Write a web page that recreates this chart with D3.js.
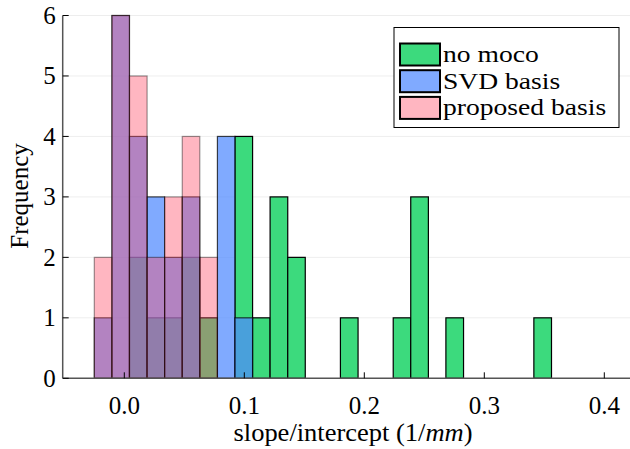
<!DOCTYPE html>
<html>
<head>
<meta charset="utf-8">
<script src="https://cdn.jsdelivr.net/npm/d3@7"></script>
<style>
  html, body { margin: 0; padding: 0; background: #fff; }
  svg { display: block; }
  text { font-family: "Liberation Serif", "Times New Roman", serif; fill: #000; }
</style>
</head>
<body>
<svg id="chart" width="630" height="449"></svg>
<script>
// Shared histogram bin edges (1/mm)
const binEdges = [-0.0250, -0.0103, 0.0043, 0.0190, 0.0336, 0.0483, 0.0629, 0.0776,
  0.0922, 0.1069, 0.1215, 0.1362, 0.1508, 0.1655, 0.1801, 0.1948, 0.2094, 0.2241,
  0.2387, 0.2534, 0.2680, 0.2827, 0.2973, 0.3120, 0.3266, 0.3413, 0.3560];

// Counts per bin for each reconstruction
const noMocoCounts   = [0, 0, 2, 1, 1, 2, 1, 0, 4, 1, 3, 2, 0, 0, 1, 0, 0, 1, 3, 0, 1, 0, 0, 0, 0, 1];
const svdCounts      = [1, 6, 4, 3, 2, 3, 0, 4, 1, 0, 0, 0, 0, 0, 0, 0, 0, 0, 0, 0, 0, 0, 0, 0, 0, 0];
const proposedCounts = [2, 6, 5, 2, 3, 4, 2, 0, 0, 0, 0, 0, 0, 0, 0, 0, 0, 0, 0, 0, 0, 0, 0, 0, 0, 0];

const seriesNames = ["no moco", "SVD basis", "proposed basis"];
const xTicks = [0.0, 0.1, 0.2, 0.3, 0.4];
const yTicks = [0, 1, 2, 3, 4, 5, 6];

const series = [
  { name: seriesNames[0], counts: noMocoCounts,   fill: "#3cda7d", alpha: 1.0,  legend: "#3cda7d" },
  { name: seriesNames[1], counts: svdCounts,      fill: "#4f89ff", alpha: 0.72, legend: "#80aaff" },
  { name: seriesNames[2], counts: proposedCounts, fill: "#ff4964", alpha: 0.4,  legend: "#ffb6c1" }
];

const svg = d3.select("#chart");
const plotLeft = 62.7, plotRight = 630, plotTop = 15.5, plotBottom = 378.3;

const x = d3.scaleLinear().domain([0, 0.4]).range([124.3, 604.3]);
const y = d3.scaleLinear().domain([0, 6]).range([plotBottom, plotTop]);

// horizontal grid
svg.append("g").selectAll("line").data(yTicks.filter(d => d > 0)).join("line")
  .attr("x1", plotLeft).attr("x2", plotRight)
  .attr("y1", d => y(d)).attr("y2", d => y(d))
  .attr("stroke", "#000").attr("stroke-opacity", 0.07).attr("stroke-width", 1);

// bars, drawn in series order so later series overlay earlier ones
series.forEach(s => {
  const bins = s.counts.map((c, i) => ({ x0: binEdges[i], x1: binEdges[i + 1], c }))
    .filter(b => b.c > 0);
  svg.append("g").selectAll("rect").data(bins).join("rect")
    .attr("x", b => x(b.x0))
    .attr("width", b => x(b.x1) - x(b.x0))
    .attr("y", b => y(b.c))
    .attr("height", b => y(0) - y(b.c))
    .attr("fill", s.fill).attr("fill-opacity", s.alpha)
    .attr("stroke", "#000").attr("stroke-opacity", s.alpha).attr("stroke-width", 1.2);
});

// axes
const axisColor = "#555";
svg.append("line").attr("x1", plotLeft).attr("x2", plotLeft).attr("y1", plotTop).attr("y2", plotBottom)
  .attr("stroke", axisColor).attr("stroke-width", 1.5);
svg.append("line").attr("x1", plotLeft).attr("x2", plotRight).attr("y1", plotBottom).attr("y2", plotBottom)
  .attr("stroke", axisColor).attr("stroke-width", 1.5);

svg.append("g").selectAll("line").data(yTicks).join("line")
  .attr("x1", plotLeft).attr("x2", plotLeft + 6)
  .attr("y1", d => y(d)).attr("y2", d => y(d))
  .attr("stroke", "#000").attr("stroke-width", 1);
svg.append("g").selectAll("line").data(xTicks).join("line")
  .attr("x1", d => x(d)).attr("x2", d => x(d))
  .attr("y1", plotBottom).attr("y2", plotBottom - 6)
  .attr("stroke", "#000").attr("stroke-width", 1);

svg.append("g").selectAll("text").data(yTicks).join("text")
  .attr("x", plotLeft - 7).attr("y", d => y(d)).attr("dy", "0.34em")
  .attr("text-anchor", "end").attr("font-size", 25)
  .text(d => d3.format("d")(d));
svg.append("g").selectAll("text").data(xTicks).join("text")
  .attr("x", d => x(d)).attr("y", 414)
  .attr("text-anchor", "middle").attr("font-size", 25)
  .text(d => d3.format(".1f")(d));

// axis titles
const xl = svg.append("text")
  .attr("transform", "translate(353,441) scale(1.06,1)")
  .attr("text-anchor", "middle").attr("font-size", 25);
xl.append("tspan").text("slope/intercept (1/");
xl.append("tspan").attr("font-style", "italic").text("mm");
xl.append("tspan").text(")");

svg.append("text")
  .attr("transform", "translate(28,196) rotate(-90)")
  .attr("text-anchor", "middle").attr("font-size", 25)
  .text("Frequency");

// legend
const lg = svg.append("g");
lg.append("rect").attr("x", 394).attr("y", 27.5).attr("width", 225).attr("height", 100)
  .attr("fill", "#fff").attr("stroke", "#000").attr("stroke-width", 1);
series.forEach((s, i) => {
  const cy = 54.5 + i * 26.7;
  lg.append("rect").attr("x", 400).attr("y", cy - 11).attr("width", 40).attr("height", 22)
    .attr("fill", s.legend).attr("stroke", "#000").attr("stroke-width", 2);
  lg.append("text")
    .attr("transform", `translate(443,${cy}) scale(1.2,1)`)
    .attr("dy", "0.33em")
    .attr("font-size", 23).text(s.name);
});
</script>
</body>
</html>
